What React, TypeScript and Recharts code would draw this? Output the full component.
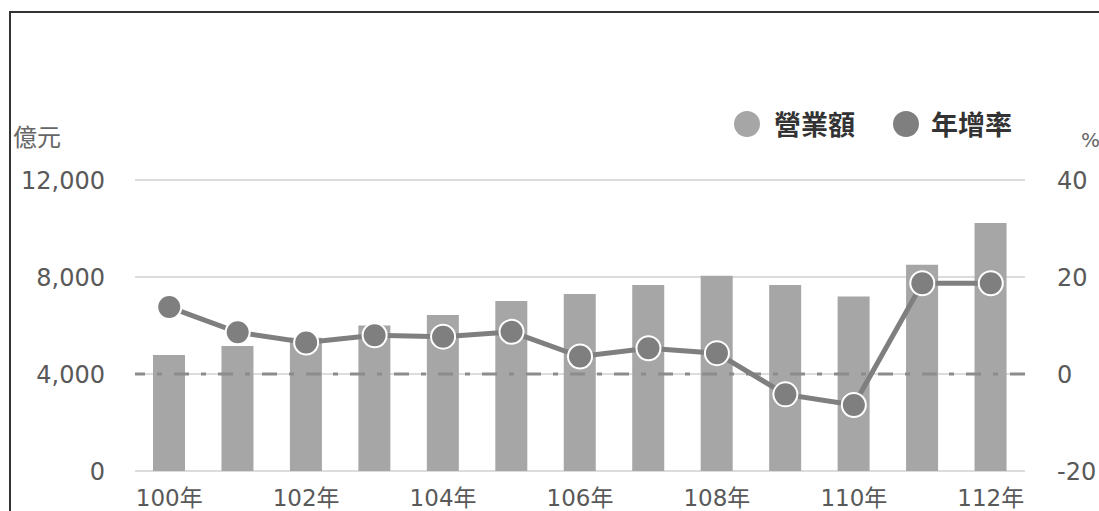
import React from 'react';
import { ComposedChart, Bar, Line, XAxis, YAxis, CartesianGrid, ReferenceLine } from 'recharts';

const years = ['100年', '101年', '102年', '103年', '104年', '105年', '106年', '107年', '108年', '109年', '110年', '111年', '112年'];
const revenue = [4780, 5150, 5500, 6000, 6430, 7010, 7300, 7670, 8050, 7670, 7200, 8510, 10230];
const growth = [13.8, 8.6, 6.5, 8.0, 7.7, 8.7, 3.6, 5.3, 4.3, -4.2, -6.4, 18.7, 18.7];
const leftTicks = [0, 4000, 8000, 12000];
const rightTicks = [-20, 0, 20, 40];
const seriesNames = { revenue: '營業額', growth: '年增率' };

const data = years.map((y, i) => ({ year: y, revenue: revenue[i], growth: growth[i] }));

const FONT = '"Noto Sans CJK TC", "Noto Sans", sans-serif';
const TICK_FONT = '"DejaVu Sans", "Noto Sans CJK TC", sans-serif';
const BAR_COLOR = '#a6a6a6';
const LINE_COLOR = '#7f7f7f';
const TICK_COLOR = '#595959';

const LegendBox = () => (
  <div style={{ position: 'absolute', left: 734, top: 104, display: 'flex', alignItems: 'center', fontFamily: FONT, fontWeight: 700, fontSize: 27, color: '#333', lineHeight: '40px' }}>
    <span style={{ width: 26, height: 26, borderRadius: 13, background: BAR_COLOR, display: 'inline-block', marginRight: 14 }} />
    <span style={{ marginRight: 38 }}>{seriesNames.revenue}</span>
    <span style={{ width: 26, height: 26, borderRadius: 13, background: LINE_COLOR, display: 'inline-block', marginRight: 12 }} />
    <span>{seriesNames.growth}</span>
  </div>
);

export default function App() {
  return (
    <div style={{ position: 'absolute', left: 0, top: 0, width: 1099, height: 511, background: '#fff', overflow: 'hidden' }}>
      <div style={{ position: 'absolute', left: 9, top: 11, width: 1100, height: 520, borderTop: '2px solid #333', borderLeft: '2px solid #333' }} />
      <div style={{ position: 'absolute', left: 13, top: 120, fontFamily: FONT, fontSize: 24, color: '#666', lineHeight: '32px' }}>億元</div>
      <div style={{ position: 'absolute', left: 1081, top: 126, fontFamily: TICK_FONT, fontSize: 20, color: '#666', lineHeight: '28px' }}>%</div>
      <ComposedChart
        width={1099}
        height={511}
        data={data}
        margin={{ top: 180, right: 0, bottom: 0, left: 0 }}
        barCategoryGap={0}
        style={{ position: 'absolute', left: 0, top: 0 }}
      >
        <CartesianGrid yAxisId="left" vertical={false} stroke="#dcdcdc" strokeWidth={2} />
        <ReferenceLine yAxisId="right" y={0} stroke="#8c8c8c" strokeWidth={3} strokeDasharray="15 12 5 12" />
        <XAxis
          dataKey="year"
          interval={1}
          axisLine={false}
          tickLine={false}
          tickSize={0}
          tickMargin={19}
          height={40}
          tick={{ fontFamily: TICK_FONT, fontSize: 23, fill: TICK_COLOR }}
        />
        <YAxis
          yAxisId="left"
          orientation="left"
          domain={[0, 12000]}
          ticks={leftTicks}
          width={135}
          axisLine={false}
          tickLine={false}
          tickSize={0}
          tickMargin={30}
          tickFormatter={(v: number) => v.toLocaleString('en-US')}
          tick={{ fontFamily: TICK_FONT, fontSize: 24, fill: TICK_COLOR }}
        />
        <YAxis
          yAxisId="right"
          orientation="right"
          domain={[-20, 40]}
          ticks={rightTicks}
          width={74}
          axisLine={false}
          tickLine={false}
          tickSize={0}
          tickMargin={32}
          tickFormatter={(v: number) => `${v}`}
          tick={{ fontFamily: TICK_FONT, fontSize: 24, fill: TICK_COLOR, textAnchor: 'start' }}
        />
        <Bar yAxisId="left" dataKey="revenue" name={seriesNames.revenue} fill={BAR_COLOR} barSize={32} isAnimationActive={false} />
        <Line
          yAxisId="right"
          dataKey="growth"
          name={seriesNames.growth}
          stroke={LINE_COLOR}
          strokeWidth={5}
          dot={{ r: 12, fill: LINE_COLOR, stroke: '#fff', strokeWidth: 2 }}
          activeDot={false}
          isAnimationActive={false}
        />
      </ComposedChart>
      <LegendBox />
    </div>
  );
}
